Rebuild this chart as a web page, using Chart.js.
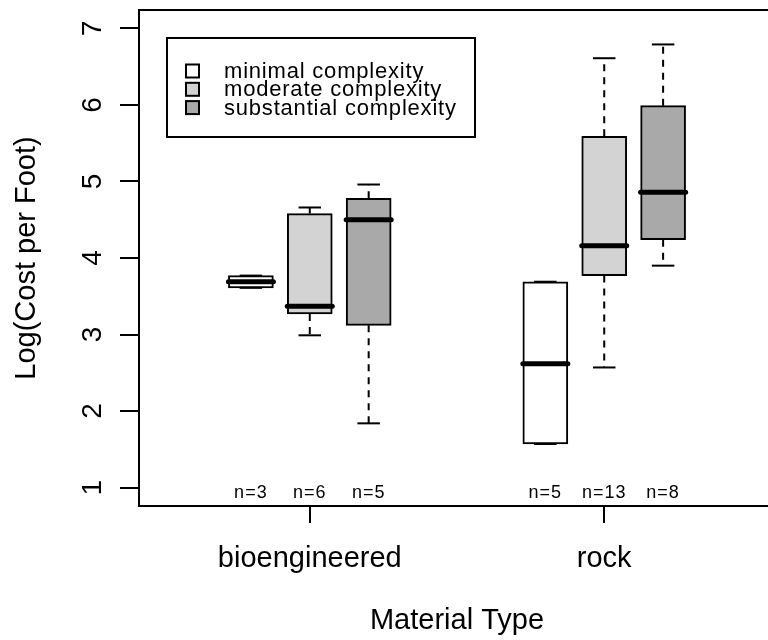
<!DOCTYPE html>
<html>
<head>
<meta charset="utf-8">
<script src="https://cdn.jsdelivr.net/npm/chart.js@4.4.1/dist/chart.umd.min.js"></script>
<style>
  html, body { margin: 0; padding: 0; background: #fff; overflow: hidden; }
  .wrap { width: 800px; height: 640px; }
</style>
</head>
<body>
<div class="wrap"><canvas id="boxChart"></canvas></div>
<script>
const groups = ['bioengineered', 'rock'];
const levels = ['minimal complexity', 'moderate complexity', 'substantial complexity'];
const fills = ['#ffffff', '#d3d3d3', '#a9a9a9'];

// [min, q1, median, q3, max] for bioengineered, rock
const minimalStats = [[3.61, 3.61, 3.69, 3.77, 3.77], [1.57, 1.57, 2.62, 3.69, 3.69]];
const moderateStats = [[2.99, 3.27, 3.37, 4.58, 4.66], [2.57, 3.77, 4.16, 5.59, 6.61]];
const substantialStats = [[1.84, 3.12, 4.50, 4.78, 4.96], [3.90, 4.24, 4.86, 5.99, 6.79]];

const minimalN = [3, 5];
const moderateN = [6, 13];
const substantialN = [5, 8];

const yTicks = [1, 2, 3, 4, 5, 6, 7];

const stats = [minimalStats, moderateStats, substantialStats];
const counts = [minimalN, moderateN, substantialN];
const offsets = [-0.2, 0, 0.2];
const FONT = 'Arial, "Liberation Sans", sans-serif';

Chart.defaults.font.family = FONT;
Chart.defaults.color = '#000';

const datasets = levels.map((lab, k) => ({
  label: lab,
  data: groups.map((g, i) => ({ x: i + 1 + offsets[k], y: [stats[k][i][1], stats[k][i][3]] })),
  stats: stats[k],
  counts: counts[k],
  backgroundColor: fills[k],
  borderColor: '#000',
  borderWidth: 2,
  borderSkipped: false,
  barThickness: 45,
  grouped: false
}));

function seg(ctx, x1, y1, x2, y2) {
  ctx.beginPath();
  ctx.moveTo(x1, y1);
  ctx.lineTo(x2, y2);
  ctx.stroke();
}

// whiskers, medians, n= labels, frame and legend
const boxExtras = {
  id: 'boxExtras',
  afterDatasetsDraw(chart) {
    const ctx = chart.ctx, xs = chart.scales.x, ys = chart.scales.y;
    const area = chart.chartArea;
    ctx.save();
    ctx.strokeStyle = '#000';
    chart.data.datasets.forEach((ds) => {
      ds.data.forEach((pt, i) => {
        const s = ds.stats[i];
        const cx = xs.getPixelForValue(pt.x);
        const half = 22.5;
        const py = s.map(v => ys.getPixelForValue(v));
        ctx.lineWidth = 2;
        ctx.lineCap = 'butt';
        ctx.setLineDash([7, 6]);
        seg(ctx, cx, py[3], cx, py[4]);
        seg(ctx, cx, py[1], cx, py[0]);
        ctx.setLineDash([]);
        seg(ctx, cx - half / 2, py[4], cx + half / 2, py[4]);
        seg(ctx, cx - half / 2, py[0], cx + half / 2, py[0]);
        ctx.lineWidth = 5;
        ctx.lineCap = 'round';
        seg(ctx, cx - half, py[2], cx + half, py[2]);

        ctx.fillStyle = '#000';
        ctx.font = '18px ' + FONT;
        ctx.letterSpacing = '1px';
        ctx.textAlign = 'center';
        ctx.textBaseline = 'alphabetic';
        ctx.fillText('n=' + ds.counts[i], cx, area.bottom - 8);
        ctx.letterSpacing = '0px';
      });
    });
    ctx.restore();
  },
  afterDraw(chart) {
    const ctx = chart.ctx, area = chart.chartArea;
    ctx.save();
    ctx.strokeStyle = '#000';
    ctx.lineWidth = 2;
    ctx.strokeRect(area.left, area.top, area.right - area.left, area.bottom - area.top);

    // legend box
    const lx = area.left + 28, ly = area.top + 28;
    ctx.fillStyle = '#fff';
    ctx.fillRect(lx, ly, 308, 99);
    ctx.strokeRect(lx, ly, 308, 99);
    ctx.font = '22px ' + FONT;
    ctx.letterSpacing = '0.8px';
    ctx.textAlign = 'left';
    ctx.textBaseline = 'middle';
    chart.data.datasets.forEach((ds, k) => {
      const cy = ly + 33 + k * 18.3;
      ctx.fillStyle = ds.backgroundColor;
      ctx.fillRect(lx + 19, cy - 6.5, 13, 13);
      ctx.strokeRect(lx + 19, cy - 6.5, 13, 13);
      ctx.fillStyle = '#000';
      ctx.fillText(ds.label, lx + 57, cy + 1);
    });
    ctx.restore();
  }
};

new Chart(document.getElementById('boxChart'), {
  type: 'bar',
  data: { datasets: datasets },
  plugins: [boxExtras],
  options: {
    responsive: true,
    maintainAspectRatio: false,
    animation: false,
    layout: { padding: { top: 10, right: 25, left: 0, bottom: 0 } },
    plugins: { legend: { display: false }, tooltip: { enabled: false } },
    scales: {
      x: {
        type: 'linear',
        min: 0.42,
        max: 2.58,
        offset: false,
        afterBuildTicks: (scale) => { scale.ticks = groups.map((g, i) => ({ value: i + 1 })); },
        afterFit: (scale) => { scale.height = 134; scale.paddingLeft = 0; scale.paddingRight = 0; },
        ticks: {
          autoSkip: false,
          maxRotation: 0,
          padding: 19,
          font: { size: 29 },
          callback: (v) => groups[v - 1]
        },
        grid: { offset: false, drawOnChartArea: false, drawTicks: true, tickLength: 17, color: '#000', lineWidth: 2 },
        border: { display: true, color: '#000', width: 2 },
        title: { display: true, text: 'Material Type', font: { size: 29 }, padding: { top: 0, bottom: 2 } }
      },
      y: {
        min: 0.76,
        max: 7.24,
        afterBuildTicks: (scale) => { scale.ticks = yTicks.map(v => ({ value: v })); },
        afterFit: (scale) => { scale.width = 139; scale.paddingTop = 0; scale.paddingBottom = 0; },
        ticks: {
          minRotation: 90,
          maxRotation: 90,
          crossAlign: 'center',
          padding: 19,
          font: { size: 28 }
        },
        grid: { drawOnChartArea: false, drawTicks: true, tickLength: 19, color: '#000', lineWidth: 2 },
        border: { display: true, color: '#000', width: 2 },
        title: { display: true, text: 'Log(Cost per Foot)', font: { size: 29 }, padding: { top: 10, bottom: 0 } }
      }
    }
  }
});
</script>
</body>
</html>
